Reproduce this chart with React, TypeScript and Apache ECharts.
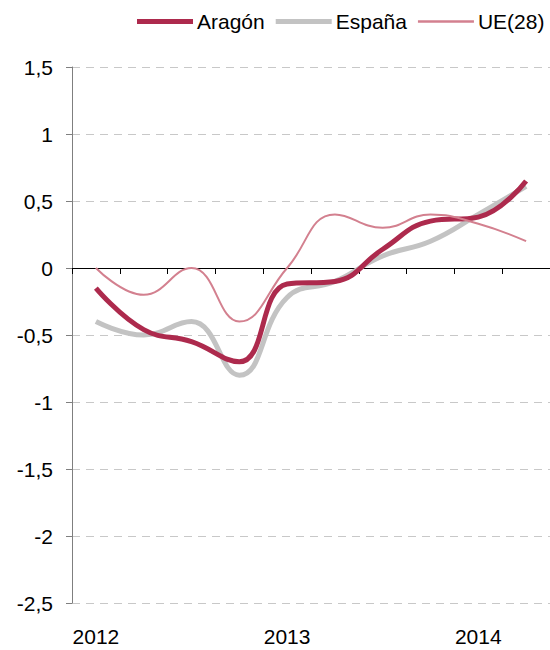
import React, { useEffect, useRef } from "react";
import * as echarts from "echarts";

const categories = [
  "2012 T1", "2012 T2", "2012 T3", "2012 T4",
  "2013 T1", "2013 T2", "2013 T3", "2013 T4",
  "2014 T1", "2014 T2",
];
const aragon = [-0.15, -0.46, -0.55, -0.7, -0.12, -0.1, 0.14, 0.35, 0.38, 0.65];
const espana = [-0.4, -0.5, -0.4, -0.8, -0.22, -0.1, 0.09, 0.2, 0.4, 0.61];
const ue28 = [0, -0.2, 0, -0.4, 0, 0.4, 0.3, 0.4, 0.33, 0.2];

const yRange = [-2.5, 1.5];

export default function App() {
  const ref = useRef<HTMLDivElement>(null);
  useEffect(() => {
    const chart = echarts.init(ref.current!, null, { renderer: "svg" });
    const font = "Liberation Sans, Arial, sans-serif";
    const smooth = 0.45;
    chart.setOption({
      animation: false,
      textStyle: { fontFamily: font },
      legend: {
        left: 137,
        top: 11,
        width: 413,
        padding: 0,
        itemWidth: 56,
        itemHeight: 22,
        itemGap: 11,
        symbolKeepAspect: true,
        textStyle: { fontSize: 21, color: "#000", fontFamily: font, padding: [0, 0, 0, -1] },
        data: [
          { name: "Aragón", icon: "path://M0 0H56V5H0Z" },
          { name: "España", icon: "path://M0 0H56V5H0Z" },
          { name: "UE(28)", icon: "path://M0 0H56V2.5H0Z" },
        ],
      },
      grid: { left: 72, right: 0, top: 67, bottom: 47 },
      xAxis: [
        {
          type: "category",
          data: categories,
          position: "bottom",
          axisLine: { show: false, onZero: false },
          axisTick: { show: false },
          axisLabel: {
            interval: 0,
            margin: 23,
            fontSize: 21,
            color: "#000",
            fontFamily: font,
            formatter: (v: string) => (v.endsWith("T1") ? v.slice(0, 4) : ""),
          },
        },
        {
          type: "category",
          data: categories,
          position: "bottom",
          axisLine: { show: true, onZero: true, lineStyle: { color: "#000", width: 1 } },
          axisTick: { show: true, interval: 0, length: 6, inside: false, lineStyle: { color: "#000" } },
          axisLabel: { show: false, interval: 0 },
        },
      ],
      yAxis: {
        type: "value",
        min: yRange[0],
        max: yRange[1],
        interval: 0.5,
        axisLine: { show: true, lineStyle: { color: "#7f7f7f", width: 1 } },
        axisTick: { show: true, length: 6, lineStyle: { color: "#7f7f7f" } },
        axisLabel: {
          fontSize: 21,
          color: "#000",
          margin: 19,
          fontFamily: font,
          formatter: (v: number) => String(Math.round(v * 10) / 10).replace(".", ","),
        },
        splitLine: { show: true, lineStyle: { color: "#c8c8c8", type: [8, 6], width: 1 } },
      },
      series: [
        {
          name: "Aragón",
          type: "line",
          data: aragon,
          smooth,
          symbol: "none",
          lineStyle: { color: "#ad2a4d", width: 5 },
          itemStyle: { color: "#ad2a4d" },
          z: 4,
        },
        {
          name: "España",
          type: "line",
          data: espana,
          smooth,
          symbol: "none",
          lineStyle: { color: "#c3c3c3", width: 5 },
          itemStyle: { color: "#c3c3c3" },
          z: 3,
        },
        {
          name: "UE(28)",
          type: "line",
          data: ue28,
          smooth,
          symbol: "none",
          lineStyle: { color: "#d3808f", width: 2 },
          itemStyle: { color: "#d3808f" },
          z: 5,
        },
      ],
    });
    return () => chart.dispose();
  }, []);
  return (
    <div
      ref={ref}
      style={{ position: "fixed", left: 0, top: 0, width: 550, height: 650, background: "#fff" }}
    />
  );
}
